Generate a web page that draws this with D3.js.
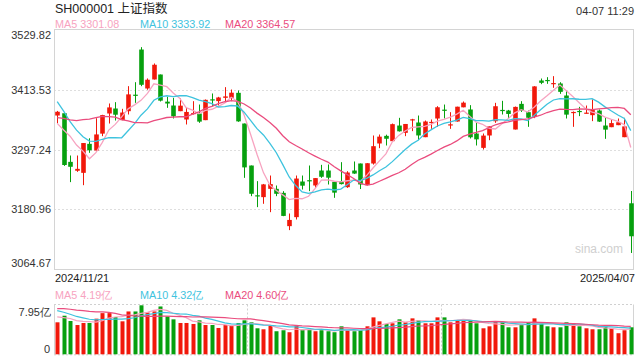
<!DOCTYPE html>
<html><head><meta charset="utf-8">
<script src="https://cdn.jsdelivr.net/npm/d3@7"></script>
<style>html,body{margin:0;padding:0;background:#fff;}svg{display:block;font-family:Arial,"Liberation Sans",sans-serif;}</style>
</head><body><svg id="c" width="640" height="360"></svg>
<script>
const dates = ["2024/11/21","2024/11/22","2024/11/25","2024/11/26","2024/11/27","2024/11/28","2024/11/29","2024/12/02","2024/12/03","2024/12/04","2024/12/05","2024/12/06","2024/12/09","2024/12/10","2024/12/11","2024/12/12","2024/12/13","2024/12/16","2024/12/17","2024/12/18","2024/12/19","2024/12/20","2024/12/23","2024/12/24","2024/12/25","2024/12/26","2024/12/27","2024/12/30","2024/12/31","2025/01/02","2025/01/03","2025/01/06","2025/01/07","2025/01/08","2025/01/09","2025/01/10","2025/01/13","2025/01/14","2025/01/15","2025/01/16","2025/01/17","2025/01/20","2025/01/21","2025/01/22","2025/01/23","2025/01/24","2025/01/27","2025/02/05","2025/02/06","2025/02/07","2025/02/10","2025/02/11","2025/02/12","2025/02/13","2025/02/14","2025/02/17","2025/02/18","2025/02/19","2025/02/20","2025/02/21","2025/02/24","2025/02/25","2025/02/26","2025/02/27","2025/02/28","2025/03/03","2025/03/04","2025/03/05","2025/03/06","2025/03/07","2025/03/10","2025/03/11","2025/03/12","2025/03/13","2025/03/14","2025/03/17","2025/03/18","2025/03/19","2025/03/20","2025/03/21","2025/03/24","2025/03/25","2025/03/26","2025/03/27","2025/03/28","2025/03/31","2025/04/01","2025/04/02","2025/04/03","2025/04/07"];
const open = [3363.1,3367.5,3273.3,3256.0,3252.0,3308.2,3295.3,3328.0,3367.0,3376.7,3354.1,3371.5,3403.5,3491.0,3415.5,3433.0,3442.6,3390.0,3382.5,3371.5,3355.4,3367.0,3367.0,3354.1,3394.5,3391.0,3397.4,3397.4,3407.1,3347.6,3266.2,3208.5,3204.9,3221.0,3221.0,3213.2,3148.7,3166.1,3235.2,3237.8,3227.5,3256.5,3256.5,3234.6,3236.0,3224.2,3256.5,3270.1,3228.1,3270.1,3308.9,3323.7,3313.4,3343.7,3329.5,3355.0,3349.6,3321.1,3349.6,3357.3,3374.5,3344.8,3351.5,3379.0,3374.8,3328.2,3300.4,3324.4,3352.0,3374.0,3372.8,3336.0,3385.7,3369.6,3360.5,3431.0,3432.0,3424.5,3425.2,3401.9,3368.5,3372.0,3367.5,3363.8,3372.8,3343.7,3340.5,3344.4,3321.1,3193.0];
const high = [3372.0,3369.6,3285.6,3285.6,3309.8,3319.0,3357.9,3364.5,3386.4,3389.0,3376.1,3420.0,3427.7,3495.6,3435.0,3464.0,3442.6,3399.3,3397.4,3396.1,3378.0,3390.9,3384.4,3394.2,3405.8,3399.3,3418.1,3413.5,3411.6,3347.6,3266.2,3235.9,3230.5,3246.8,3227.5,3216.5,3173.2,3246.8,3246.8,3266.2,3241.8,3267.5,3268.2,3234.6,3272.7,3255.2,3274.0,3270.1,3270.7,3324.4,3326.3,3326.0,3347.6,3358.6,3346.7,3356.7,3363.1,3353.4,3355.4,3381.2,3384.4,3369.6,3380.2,3390.3,3383.2,3348.9,3328.2,3342.0,3387.7,3391.6,3374.0,3380.5,3390.9,3372.8,3420.0,3434.8,3437.4,3439.4,3427.7,3411.6,3371.0,3379.9,3382.5,3394.2,3374.8,3358.6,3355.4,3357.3,3358.6,3216.8];
const low = [3348.0,3265.5,3234.0,3253.9,3228.1,3290.8,3294.0,3323.1,3347.6,3353.4,3354.0,3365.1,3387.7,3420.0,3413.0,3432.9,3390.3,3378.0,3357.3,3371.5,3345.7,3365.1,3348.9,3354.1,3381.2,3382.5,3388.0,3391.0,3350.9,3242.3,3206.8,3185.5,3192.0,3175.8,3206.8,3168.0,3141.0,3161.6,3219.7,3216.5,3222.9,3242.3,3229.4,3203.6,3229.5,3222.9,3250.0,3220.6,3227.5,3268.0,3299.8,3305.0,3313.4,3332.0,3323.1,3332.8,3315.3,3321.1,3337.3,3341.2,3357.3,3337.3,3351.3,3379.0,3318.6,3305.0,3297.2,3315.3,3348.9,3365.1,3357.3,3336.0,3370.0,3341.2,3358.0,3423.9,3424.5,3416.8,3405.1,3357.3,3341.2,3361.9,3367.0,3352.2,3350.5,3317.9,3340.5,3344.4,3321.1,3096.7];
const close = [3370.40,3267.19,3263.76,3259.76,3309.78,3295.70,3326.46,3363.98,3378.81,3364.65,3368.86,3404.08,3402.53,3422.66,3432.49,3461.50,3391.88,3386.33,3361.49,3382.21,3370.03,3368.07,3351.26,3393.53,3393.35,3398.08,3400.14,3407.33,3351.76,3262.56,3211.43,3206.92,3229.64,3230.17,3211.39,3168.52,3160.76,3240.94,3227.12,3236.03,3241.82,3244.38,3242.62,3213.62,3230.16,3252.63,3250.60,3229.49,3270.66,3303.67,3322.17,3318.06,3346.39,3332.48,3346.72,3355.83,3324.49,3351.54,3350.78,3379.11,3373.03,3346.04,3380.21,3388.06,3320.90,3316.93,3324.21,3341.96,3381.10,3372.55,3366.16,3379.83,3371.92,3358.73,3419.56,3426.43,3429.76,3426.04,3408.95,3364.83,3370.03,3369.98,3368.70,3373.75,3351.31,3335.75,3348.44,3350.13,3342.01,3129.07];
const volume = [5.19,6.26,5.40,4.75,5.08,5.08,5.78,6.68,6.68,6.04,5.35,6.95,6.95,7.95,6.79,6.95,7.76,6.15,5.67,5.08,5.08,4.92,5.51,4.75,4.75,4.27,4.75,4.65,5.08,5.51,5.19,4.22,4.06,4.65,3.74,3.90,3.58,4.65,4.01,4.11,3.74,3.90,3.74,3.58,4.54,3.90,3.74,3.90,4.54,5.99,5.35,4.92,5.03,5.67,5.19,5.83,5.51,5.03,5.03,5.99,5.99,5.19,5.51,5.67,5.51,5.03,4.22,4.54,5.35,5.19,4.38,4.38,4.92,5.19,5.83,5.03,4.54,4.38,4.38,5.19,5.03,4.54,4.22,4.06,4.06,4.54,4.22,3.42,3.90,4.38];
// closes / volumes of the 19 sessions before the first visible day (for the moving averages)
const priorCloses = [3299.70,3322.20,3286.41,3266.24,3279.82,3272.01,3310.21,3386.99,3383.81,3470.66,3452.30,3470.07,3421.97,3439.28,3379.84,3330.73,3323.85,3346.01,3367.99];
const priorVolumes = [6.2,7.2,7.6,6.8,7.4,7.6,6.5,8.3,9.4,9.9,9.0,8.6,8.4,7.4,7.3,6.8,6.1,6.5,5.7];
const priceTicks = [3529.82,3413.53,3297.24,3180.96,3064.67];
const volTicks = [7.95,0];
const maPeriods = [5,10,20];
const maColors = ["#f7a3c0","#3ec3de","#ea4c7e"];
const priceLegend = ["MA5 3301.08","MA10 3333.92","MA20 3364.57"];
const volLegend = ["MA5 4.19亿","MA10 4.32亿","MA20 4.60亿"];
const title = "SH000001 上证指数";
const timeStamp = "04-07 11:29";

const RED = "#f1180b", GREEN = "#06a00e";
const svg = d3.select("#c");
const L = 54, R = 634, T = 29.5, B = 269.5, VT = 304.5, VB = 354.3;
const n = close.length;
const x = d3.scaleBand().domain(d3.range(n)).range([L, R]);
const cx = i => x(i) + x.bandwidth()/2;
const y = d3.scaleLinear().domain([3064.67, 3529.82]).range([B, T]);
const yv = d3.scaleLinear().domain([0, 7.95]).range([VB, VT + 0.8]);

function movingAvg(series, prior, p) {
  const all = prior.concat(series);
  const off = prior.length;
  return series.map((_, i) => d3.mean(all.slice(off + i - p + 1, off + i + 1)));
}

// title
svg.append("text").attr("x", 55).attr("y", 13).attr("font-size", 12.5).attr("fill", "#222")
  .attr("font-family", "Arial, 'Noto Sans CJK SC', sans-serif").text(title);
svg.append("text").attr("x", 634).attr("y", 14.5).attr("text-anchor", "end").attr("font-size", 11).attr("fill", "#333").text(timeStamp);
const legX = [55, 140, 225];
priceLegend.forEach((t, k) => svg.append("text").attr("x", legX[k]).attr("y", 27.5).attr("font-size", 10.8).attr("fill", maColors[k]).text(t));

// grid
const grid = svg.append("g");
priceTicks.slice(1, -1).forEach(v => grid.append("line").attr("x1", L).attr("x2", R).attr("y1", Math.round(y(v)) + 0.5).attr("y2", Math.round(y(v)) + 0.5)
  .attr("stroke", "#dedede").attr("stroke-dasharray", "2,2"));
svg.append("rect").attr("x", L + 0.5).attr("y", T).attr("width", R - L - 1).attr("height", B - T).attr("fill", "none").attr("stroke", "#d4d4d4");

// y labels
priceTicks.forEach(v => {
  let yy = y(v) + 4;
  yy = Math.max(39, Math.min(267, yy));
  svg.append("text").attr("x", 51).attr("y", yy).attr("text-anchor", "end").attr("font-size", 11).attr("fill", "#333").text(v.toFixed(2));
});

// watermark
svg.append("text").attr("x", 623).attr("y", 253).attr("text-anchor", "end").attr("font-size", 12).attr("fill", "#cfcfcf").text("sina.com");

// candles
const cg = svg.append("g");
const bw = 4.6;
d3.range(n).forEach(i => {
  const up = close[i] >= open[i];
  const col = up ? RED : GREEN;
  const xc = Math.round(cx(i)) + 0.5;
  cg.append("line").attr("x1", xc).attr("x2", xc).attr("y1", y(high[i])).attr("y2", y(low[i])).attr("stroke", col).attr("stroke-width", 1);
  const top = y(Math.max(open[i], close[i])), bot = y(Math.min(open[i], close[i]));
  cg.append("rect").attr("x", xc - bw/2).attr("y", top).attr("width", bw).attr("height", Math.max(1.2, bot - top)).attr("fill", col);
});

// price MAs
const line = d3.line().x((d, i) => cx(i)).y(d => y(d)).curve(d3.curveLinear);
maPeriods.forEach((p, k) => {
  svg.append("path").datum(movingAvg(close, priorCloses, p)).attr("d", line).attr("fill", "none").attr("stroke", maColors[k]).attr("stroke-width", 1.3);
});

// date labels
svg.append("text").attr("x", 55).attr("y", 282).attr("font-size", 11).attr("fill", "#222").text(dates[0]);
svg.append("text").attr("x", 635).attr("y", 282).attr("text-anchor", "end").attr("font-size", 11).attr("fill", "#222").text(dates[n - 1]);

// volume panel
volLegend.forEach((t, k) => svg.append("text").attr("x", legX[k]).attr("y", 299).attr("font-size", 10.8).attr("fill", maColors[k]).text(t));
const vg = svg.append("g");
vg.append("line").attr("x1", L).attr("x2", R).attr("y1", VT).attr("y2", VT).attr("stroke", "#d0d0d0").attr("stroke-dasharray", "2,2");
vg.append("line").attr("x1", L).attr("x2", R).attr("y1", VB + 0.5).attr("y2", VB + 0.5).attr("stroke", "#d0d0d0").attr("stroke-dasharray", "2,2");
[1, 2].forEach(k => {
  const xx = Math.round(L + (R - L) * k / 3) + 0.5;
  vg.append("line").attr("x1", xx).attr("x2", xx).attr("y1", VT).attr("y2", VB).attr("stroke", "#d0d0d0").attr("stroke-dasharray", "2,2");
});
vg.append("line").attr("x1", L + 0.5).attr("x2", L + 0.5).attr("y1", VT).attr("y2", VB).attr("stroke", "#d4d4d4");
vg.append("line").attr("x1", R - 0.5).attr("x2", R - 0.5).attr("y1", VT).attr("y2", VB).attr("stroke", "#d4d4d4");
d3.range(n).forEach(i => {
  const up = close[i] >= open[i];
  vg.append("rect").attr("x", Math.round(cx(i)) + 0.5 - 2).attr("y", yv(volume[i])).attr("width", 4).attr("height", VB - yv(volume[i])).attr("fill", up ? RED : GREEN);
});
const vline = d3.line().x((d, i) => cx(i)).y(d => yv(d));
maPeriods.forEach((p, k) => {
  vg.append("path").datum(movingAvg(volume, priorVolumes, p)).attr("d", vline).attr("fill", "none").attr("stroke", maColors[k]).attr("stroke-width", 1.2);
});
svg.append("text").attr("x", 51).attr("y", 315.5).attr("text-anchor", "end").attr("font-size", 11).attr("fill", "#333").text(volTicks[0] + "亿");
svg.append("text").attr("x", 50).attr("y", 352.5).attr("text-anchor", "end").attr("font-size", 11).attr("fill", "#333").text(String(volTicks[1]));
</script></body></html>
